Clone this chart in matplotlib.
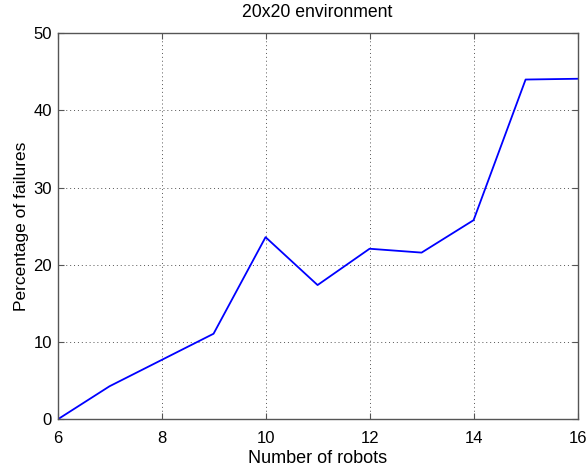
import matplotlib
matplotlib.use("Agg")
import matplotlib.pyplot as plt

robots = [6, 7, 8, 9, 10, 11, 12, 13, 14, 15, 16]
failures = [0.0, 4.3, 7.7, 11.1, 23.6, 17.4, 22.1, 21.6, 25.8, 44.0, 44.1]

x_ticks = [6, 8, 10, 12, 14, 16]
y_ticks = [0, 10, 20, 30, 40, 50]

plt.rcParams['font.family'] = ['Liberation Sans', 'DejaVu Sans']

fig = plt.figure(figsize=(5.87, 4.74), dpi=100)
ax = fig.add_axes([0.098, 0.115, 0.886, 0.815])

ax.plot(robots, failures, color='#0000ff', linewidth=1.3)

ax.set_xlim(6, 16)
ax.set_ylim(0, 50)
ax.set_xticks(x_ticks)
ax.set_yticks(y_ticks)

ax.grid(True, linestyle=(0, (1, 3)), color='#555555', linewidth=0.7)
for s in ax.spines.values():
    s.set_color('#555555')
    s.set_linewidth(1.0)
ax.tick_params(direction='in', top=True, right=True, length=4, width=0.8,
               color='#555555', labelsize=12)
ax.tick_params(axis='x', pad=8)
ax.tick_params(axis='y', pad=4)

ax.set_title('20x20 environment', fontsize=12.7, pad=12)
ax.set_xlabel('Number of robots', fontsize=13, labelpad=3)
ax.set_ylabel('Percentage of failures', fontsize=12.5, labelpad=3)

fig.savefig('out.png', dpi=100)
